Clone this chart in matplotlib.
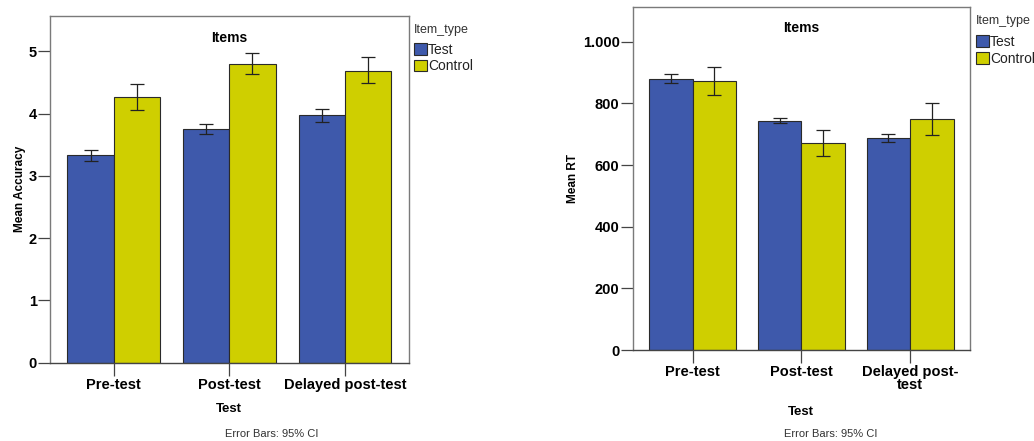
import matplotlib
matplotlib.use("Agg")
import matplotlib.pyplot as plt
import matplotlib.ticker as mticker
from matplotlib.patches import Patch
import numpy as np

# Data
tests = ["Pre-test", "Post-test", "Delayed post-test"]
tests_rt = ["Pre-test", "Post-test", "Delayed post-\ntest"]
item_types = ["Test", "Control"]

acc_test = [3.33, 3.75, 3.98]
acc_test_lo = [3.24, 3.67, 3.87]
acc_test_hi = [3.42, 3.83, 4.08]
acc_control = [4.26, 4.79, 4.69]
acc_control_lo = [4.06, 4.63, 4.49]
acc_control_hi = [4.47, 4.97, 4.90]

rt_test = [880, 744, 688]
rt_test_lo = [865, 735, 675]
rt_test_hi = [895, 754, 702]
rt_control = [872, 672, 749]
rt_control_lo = [826, 631, 697]
rt_control_hi = [917, 714, 801]

BLUE = "#3E59AB"
YELLOW = "#CFCF00"
EDGE = "#2a2a2a"
FRAME = "#7a7a7a"

plt.rcParams["font.family"] = ["Liberation Sans", "DejaVu Sans"]

fig = plt.figure(figsize=(10.34, 4.41), dpi=100)
W, H = 1034, 441


def px_axes(x0, y0, x1, y1):
    return fig.add_axes([x0 / W, 1 - y1 / H, (x1 - x0) / W, (y1 - y0) / H])


def draw_panel(ax, labels, s1, s1lo, s1hi, s2, s2lo, s2hi, ylim, yticks, ylabel, fmt, title_y):
    x = np.arange(len(labels))
    w = 0.4
    for off, vals, lo, hi, col in [(-w / 2, s1, s1lo, s1hi, BLUE), (w / 2, s2, s2lo, s2hi, YELLOW)]:
        vals = np.array(vals)
        err = np.vstack([vals - np.array(lo), np.array(hi) - vals])
        ax.bar(x + off, vals, width=w, color=col, edgecolor=EDGE, linewidth=0.8, zorder=2)
        ax.errorbar(x + off, vals, yerr=err, fmt="none", ecolor="#222222",
                    elinewidth=0.9, capsize=5, capthick=0.9, zorder=3)
    ax.set_xlim(-0.551, 2.551)
    ax.set_ylim(*ylim)
    ax.set_yticks(yticks)
    ax.yaxis.set_major_formatter(mticker.FuncFormatter(fmt))
    ax.set_xticks(x)
    ax.set_xticklabels(labels, fontsize=10.5, fontweight="bold", linespacing=0.85)
    ax.tick_params(axis="y", length=9, width=0.9, color="#444444", labelsize=10.5, pad=0.5)
    ax.tick_params(axis="x", length=9, width=0.9, color="#444444", pad=2)
    for lab in ax.get_yticklabels():
        lab.set_fontweight("bold")
    for side in ["top", "right", "left"]:
        ax.spines[side].set_color(FRAME)
        ax.spines[side].set_linewidth(1.0)
    ax.spines["bottom"].set_color("#444444")
    ax.spines["bottom"].set_linewidth(1.0)
    ax.set_ylabel(ylabel, fontsize=8.5, fontweight="bold")
    ax.text(0.5, title_y, "Items", transform=ax.transAxes,
            ha="center", va="center", fontsize=10, fontweight="bold")


def acc_fmt(v, p):
    return f"{int(round(v))}"


def rt_fmt(v, p):
    v = int(round(v))
    return f"{v:,}".replace(",", ".")


# Accuracy panel
ax1 = px_axes(50, 15.7, 408.7, 362.7)
draw_panel(ax1, tests, acc_test, acc_test_lo, acc_test_hi,
           acc_control, acc_control_lo, acc_control_hi,
           (0, 5.57), [0, 1, 2, 3, 4, 5], "Mean Accuracy", acc_fmt, 1 - (37.7 - 15.7) / 347)
ax1.yaxis.set_label_coords(-0.066, 0.5)
ax1.set_xlabel("Test", fontsize=9.5, fontweight="bold", labelpad=8)

# Reaction time panel
ax2 = px_axes(632.7, 7.3, 970, 350)
draw_panel(ax2, tests_rt, rt_test, rt_test_lo, rt_test_hi,
           rt_control, rt_control_lo, rt_control_hi,
           (0, 1112), [0, 200, 400, 600, 800, 1000], "Mean RT", rt_fmt, 1 - (28.3 - 7.3) / 342.7)
ax2.yaxis.set_label_coords(-0.158, 0.5)
ax2.set_xlabel("Test", fontsize=9.5, fontweight="bold", labelpad=10)

# Legends (title drawn separately) and footnotes
handles = [Patch(facecolor=BLUE, edgecolor=EDGE, linewidth=0.8),
           Patch(facecolor=YELLOW, edgecolor=EDGE, linewidth=0.8)]
for (lx, ty, ly) in [(414, 30, 42.5), (976, 20.7, 35)]:
    fig.text(lx / W, 1 - ty / H, "Item_type", ha="left", va="center",
             fontsize=9, color="#333333")
    leg = fig.legend(handles, item_types, loc="upper left",
                     bbox_to_anchor=(lx / W, 1 - ly / H), frameon=False, fontsize=10,
                     handlelength=0.9, handleheight=0.95,
                     handletextpad=0.12, borderpad=0, borderaxespad=0,
                     labelspacing=0.2)
    for t in leg.get_texts():
        t.set_color("#222222")

fig.text(272 / W, 1 - 434 / H, "Error Bars: 95% CI", ha="center", va="center",
         fontsize=8, color="#333333")
fig.text(831 / W, 1 - 434 / H, "Error Bars: 95% CI", ha="center", va="center",
         fontsize=8, color="#333333")

fig.savefig("out.png", dpi=100, facecolor="white")
